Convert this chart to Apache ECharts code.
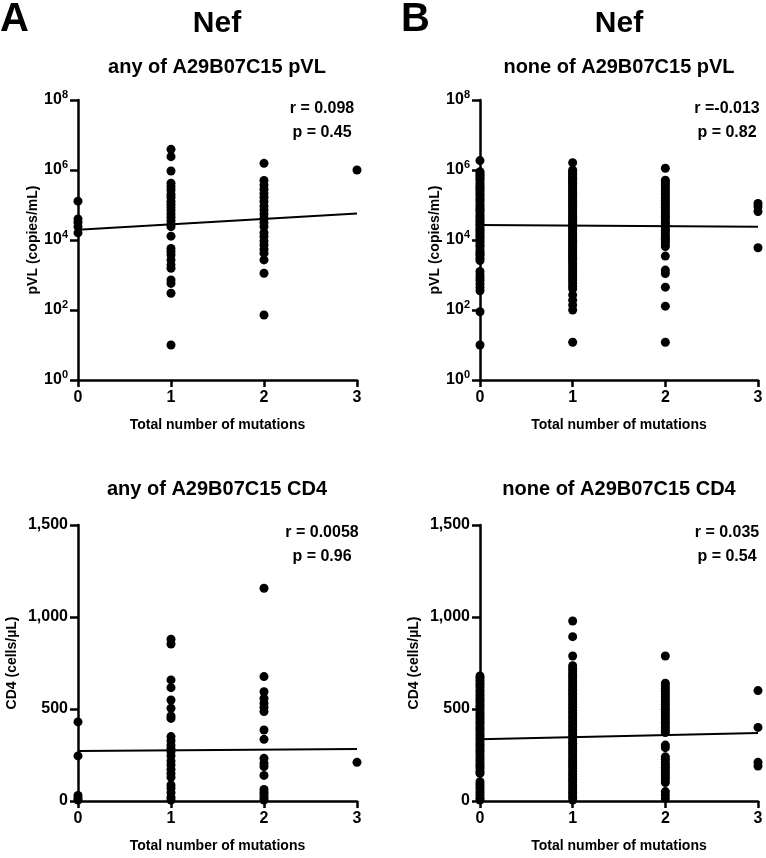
<!DOCTYPE html>
<html><head><meta charset="utf-8">
<script src="https://cdn.jsdelivr.net/npm/echarts@6/dist/echarts.min.js"></script>
<style>html,body{margin:0;padding:0;background:#fff}#c{width:766px;height:858px}</style>
</head><body><div id="c"></div>
<script>
// ---- Data ----
const mutationTicks = [0, 1, 2, 3];
const pvlTickExponents = [0, 2, 4, 6, 8];
const cd4Ticks = [0, 500, 1000, 1500];

// Panel A top: any of A29B07C15, pVL (copies/mL)
const anyPvl0 = [129000, 40000, 32000, 24000, 16000];
const anyPvl1 = [3890000, 2400000, 933000, 417000, 331000, 269000, 204000, 166000, 129000, 105000, 85000, 69000, 55000, 44700, 35500, 28800, 24000, 12900, 5750, 4680, 3720, 2690, 1950, 1550, 724, 575, 302, 10];
const anyPvl2 = [1550000, 500000, 372000, 282000, 214000, 166000, 126000, 93000, 72000, 55000, 41700, 31600, 24000, 16200, 12600, 9300, 7200, 5400, 4200, 2700, 1120, 72];
const anyPvl3 = [1000000];
const anyPvlFit = [19500, 57500];
const anyPvlStats = ['r = 0.098', 'p = 0.45'];

// Panel B top: none of A29B07C15, pVL
const nonePvl0 = [1860000, 890000, 794000, 708000, 631000, 562000, 501000, 417000, 355000, 316000, 282000, 251000, 214000, 191000, 158000, 141000, 126000, 105000, 89000, 79000, 71000, 63000, 52000, 46000, 40000, 35500, 31600, 27500, 25100, 21400, 19100, 16600, 14100, 12600, 11200, 9500, 8300, 7100, 6300, 5200, 4500, 4000, 3550, 3000, 2600, 1260, 1000, 830, 710, 560, 450, 355, 89, 10];
const nonePvl1 = [1620000, 1000000, 900000, 800000, 720000, 650000, 580000, 520000, 460000, 410000, 370000, 330000, 290000, 260000, 230000, 200000, 180000, 160000, 140000, 125000, 110000, 98000, 87000, 77000, 68000, 60000, 53000, 47000, 42000, 37000, 33000, 29000, 26000, 23000, 20000, 18000, 16000, 14000, 12500, 11000, 9800, 8700, 7700, 6800, 6000, 5300, 4700, 4100, 3600, 3200, 2800, 2400, 2100, 1800, 1550, 1300, 1100, 950, 800, 680, 570, 470, 400, 270, 190, 138, 100, 12];
const nonePvl2 = [1120000, 510000, 440000, 380000, 330000, 285000, 245000, 210000, 180000, 155000, 135000, 115000, 100000, 86000, 74000, 64000, 55000, 47000, 41000, 35000, 30000, 26000, 22000, 19000, 16500, 14000, 12000, 10500, 9000, 7700, 6500, 3470, 1380, 1100, 450, 129, 12];
const nonePvl3 = [110000, 90000, 65000, 6000];
const nonePvlFit = [27000, 24000];
const nonePvlStats = ['r =-0.013', 'p = 0.82'];

// Panel A bottom: any of A29B07C15, CD4 (cells/µL)
const anyCd40 = [430, 245, 30, 15, 5];
const anyCd41 = [879, 853, 658, 616, 549, 504, 462, 449, 350, 328, 304, 286, 268, 245, 217, 196, 172, 150, 129, 87, 69, 45, 20, 5];
const anyCd42 = [1156, 676, 594, 558, 531, 509, 486, 386, 335, 232, 205, 187, 139, 63, 47, 33, 18, 5];
const anyCd43 = [210];
const anyCd4Fit = [272, 283];
const anyCd4Stats = ['r = 0.0058', 'p = 0.96'];

// Panel B bottom: none of A29B07C15, CD4
const noneCd40 = [680, 668, 655, 640, 628, 615, 600, 588, 575, 560, 548, 535, 520, 508, 495, 480, 468, 455, 440, 428, 415, 400, 388, 375, 360, 348, 335, 320, 308, 295, 280, 268, 255, 240, 228, 215, 200, 188, 175, 160, 150, 105, 90, 75, 60, 45, 30, 15, 5];
const noneCd41 = [978, 893, 788, 735, 720, 706, 692, 678, 664, 650, 636, 622, 608, 594, 580, 566, 552, 538, 524, 510, 496, 482, 468, 454, 440, 426, 412, 398, 384, 370, 356, 342, 328, 314, 300, 286, 272, 258, 244, 230, 216, 202, 188, 174, 160, 146, 132, 118, 104, 90, 76, 62, 48, 34, 20, 5];
const noneCd42 = [788, 640, 625, 610, 596, 582, 568, 554, 540, 526, 512, 498, 484, 470, 456, 442, 428, 414, 400, 386, 372, 304, 290, 240, 226, 212, 198, 184, 170, 156, 142, 128, 114, 100, 51, 33, 14];
const noneCd43 = [600, 400, 210, 190];
const noneCd4Fit = [335, 370];
const noneCd4Stats = ['r = 0.035', 'p = 0.54'];

const panelLetters = ['A', 'B'];
const geneTitle = 'Nef';
const subtitles = ['any of A29B07C15 pVL', 'none of A29B07C15 pVL', 'any of A29B07C15 CD4', 'none of A29B07C15 CD4'];
const xAxisTitle = 'Total number of mutations';
const pvlAxisTitle = 'pVL (copies/mL)';
const cd4AxisTitle = 'CD4 (cells/\u00b5L)';

// ---- Chart ----
const FONT = "'Liberation Sans', Arial, Helvetica, sans-serif";
const chart = echarts.init(document.getElementById('c'), null, {renderer: 'canvas'});

const grids = [
  {left: 78, top: 100, width: 279, height: 280},
  {left: 480, top: 100, width: 278, height: 280},
  {left: 78, top: 525, width: 279, height: 276},
  {left: 480, top: 525, width: 278, height: 276}
];

const axisLineStyle = {color: '#000', width: 2.5};

function xAxis(i) {
  return {
    type: 'value', gridIndex: i, min: mutationTicks[0], max: mutationTicks[mutationTicks.length - 1], interval: 1,
    axisLine: {show: true, onZero: false, lineStyle: axisLineStyle},
    axisTick: {show: true, length: 7, lineStyle: axisLineStyle},
    axisLabel: {color: '#000', fontSize: 16, fontWeight: 'bold', fontFamily: FONT, margin: 10},
    splitLine: {show: false},
    name: xAxisTitle, nameLocation: 'middle', nameGap: 38,
    nameTextStyle: {color: '#000', fontSize: 14, fontWeight: 'bold', fontFamily: FONT}
  };
}

function pvlAxis(i) {
  return {
    type: 'log', logBase: 10, gridIndex: i,
    min: Math.pow(10, pvlTickExponents[0]), max: Math.pow(10, pvlTickExponents[pvlTickExponents.length - 1]),
    interval: pvlTickExponents[1] - pvlTickExponents[0],
    axisLine: {show: true, onZero: false, lineStyle: axisLineStyle},
    axisTick: {show: true, length: 8, lineStyle: axisLineStyle},
    minorTick: {show: false},
    axisLabel: {
      margin: 10,
      formatter: function (v) { return '{b|10}{s|' + Math.round(Math.log10(v)) + '}'; },
      rich: {
        b: {fontSize: 16, fontWeight: 'bold', fontFamily: FONT, color: '#000', lineHeight: 22},
        s: {fontSize: 11, fontWeight: 'bold', fontFamily: FONT, color: '#000', lineHeight: 12, verticalAlign: 'top'}
      }
    },
    splitLine: {show: false},
    name: pvlAxisTitle, nameLocation: 'middle', nameGap: 36, nameRotate: 90,
    nameTextStyle: {color: '#000', fontSize: 14, fontWeight: 'bold', fontFamily: FONT}
  };
}

function cd4Axis(i) {
  return {
    type: 'value', gridIndex: i, min: cd4Ticks[0], max: cd4Ticks[cd4Ticks.length - 1], interval: 500,
    axisLine: {show: true, onZero: false, lineStyle: axisLineStyle},
    axisTick: {show: true, length: 8, lineStyle: axisLineStyle},
    axisLabel: {color: '#000', fontSize: 16, fontWeight: 'bold', fontFamily: FONT, margin: 10,
      formatter: function (v) { return v.toLocaleString('en-US'); }},
    splitLine: {show: false},
    name: cd4AxisTitle, nameLocation: 'middle', nameGap: 59, nameRotate: 90,
    nameTextStyle: {color: '#000', fontSize: 14, fontWeight: 'bold', fontFamily: FONT}
  };
}

function scatterSeries(i, groups) {
  const data = [];
  groups.forEach(function (vals, x) { vals.forEach(function (v) { data.push([mutationTicks[x], v]); }); });
  return {
    type: 'scatter', xAxisIndex: i, yAxisIndex: i, data: data, symbol: 'circle', symbolSize: 9,
    itemStyle: {color: '#000', opacity: 1}, clip: false, silent: true, z: 3
  };
}

function fitSeries(i, fit) {
  return {
    type: 'line', xAxisIndex: i, yAxisIndex: i,
    data: [[mutationTicks[0], fit[0]], [mutationTicks[mutationTicks.length - 1], fit[1]]],
    symbol: 'none', lineStyle: {color: '#000', width: 2}, silent: true, z: 4, clip: false
  };
}

function txt(text, x, y, size, align) {
  return {
    type: 'text', x: x, y: y, silent: true,
    style: {text: text, fill: '#000', fontSize: size, fontWeight: 'bold', fontFamily: FONT,
      align: align || 'center', verticalAlign: 'middle', textAlign: align || 'center', textVerticalAlign: 'middle'}
  };
}

const statsX = [322, 727];
const centers = [217, 619];

const graphics = [
  txt(panelLetters[0], 0, 20, 40, 'left'),
  txt(panelLetters[1], 401, 20, 40, 'left'),
  txt(geneTitle, centers[0], 24, 30),
  txt(geneTitle, centers[1], 24, 30),
  txt(subtitles[0], centers[0], 67, 20),
  txt(subtitles[1], centers[1], 67, 20),
  txt(subtitles[2], centers[0], 489, 20),
  txt(subtitles[3], centers[1], 489, 20),
  txt(anyPvlStats[0], statsX[0], 109, 16),
  txt(anyPvlStats[1], statsX[0], 133, 16),
  txt(nonePvlStats[0], statsX[1], 109, 16),
  txt(nonePvlStats[1], statsX[1], 133, 16),
  txt(anyCd4Stats[0], statsX[0], 533, 16),
  txt(anyCd4Stats[1], statsX[0], 557, 16),
  txt(noneCd4Stats[0], statsX[1], 533, 16),
  txt(noneCd4Stats[1], statsX[1], 557, 16)
];

chart.setOption({
  backgroundColor: '#fff',
  animation: false,
  grid: grids,
  xAxis: [xAxis(0), xAxis(1), xAxis(2), xAxis(3)],
  yAxis: [pvlAxis(0), pvlAxis(1), cd4Axis(2), cd4Axis(3)],
  series: [
    scatterSeries(0, [anyPvl0, anyPvl1, anyPvl2, anyPvl3]), fitSeries(0, anyPvlFit),
    scatterSeries(1, [nonePvl0, nonePvl1, nonePvl2, nonePvl3]), fitSeries(1, nonePvlFit),
    scatterSeries(2, [anyCd40, anyCd41, anyCd42, anyCd43]), fitSeries(2, anyCd4Fit),
    scatterSeries(3, [noneCd40, noneCd41, noneCd42, noneCd43]), fitSeries(3, noneCd4Fit)
  ],
  graphic: graphics
});
</script>
</body></html>
